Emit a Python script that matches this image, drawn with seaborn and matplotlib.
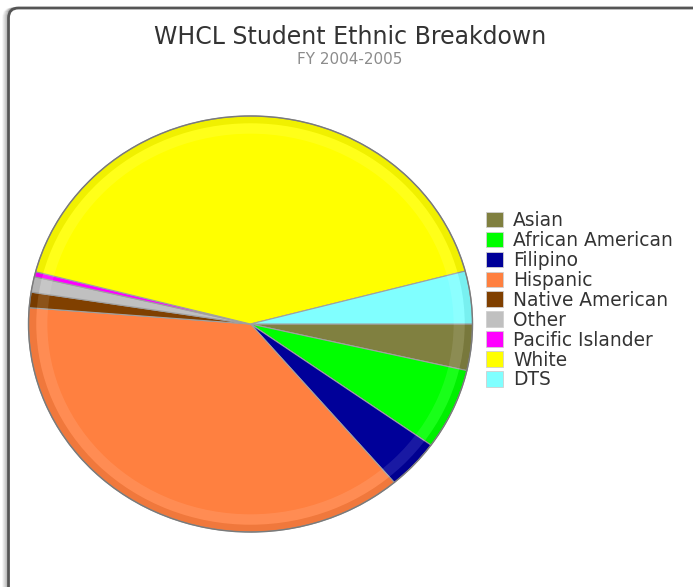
import matplotlib.pyplot as plt
import seaborn as sns
from matplotlib.patches import FancyBboxPatch, Ellipse, Wedge, Patch

sns.set_theme(style='white')
plt.rcParams['font.family'] = ['DejaVu Sans']

# share of students (%)
groups = ['Asian', 'African American', 'Filipino', 'Hispanic', 'Native American',
          'Other', 'Pacific Islander', 'White', 'DTS']
share = [3.6, 6.3, 3.9, 37.5, 1.2, 1.2, 0.4, 41.9, 4.1]
colors = ['#808040', '#00ff00', '#000099', '#ff8040', '#804000',
          '#c0c0c0', '#ff00ff', '#ffff00', '#80ffff']

W, H = 693, 587
fig = plt.figure(figsize=(W / 100, H / 100), dpi=100)
fig.set_facecolor('white')

# rounded frame with a soft shadow on the left
for i, a in enumerate([0.04, 0.07, 0.10, 0.14, 0.18]):
    fig.patches.append(FancyBboxPatch((3 + i, -20), W + 40, H + 20 - 8,
                                      boxstyle='round,pad=0,rounding_size=10',
                                      transform=None, fc='none', ec='black',
                                      lw=1.2, alpha=a, zorder=0))
fig.patches.append(FancyBboxPatch((8.5, -20), W + 40, H + 20 - 8,
                                  boxstyle='round,pad=0,rounding_size=10',
                                  transform=None, fc='white', ec='#555555',
                                  lw=2, zorder=1))

fig.text(350 / W, 1 - 37 / H, 'WHCL Student Ethnic Breakdown', ha='center', va='center',
         fontsize=17, color='#333333')
fig.text(350 / W, 1 - 60 / H, 'FY 2004-2005', ha='center', va='center',
         fontsize=11, color='#8c8c8c')

# pie axes: slightly squashed ellipse like the original
left, right, top, bottom = 28.5, 472.5, 116, 532
ax = fig.add_axes([left / W, 1 - bottom / H, (right - left) / W, (bottom - top) / H])
ax.set_zorder(2)

ax.pie(share, colors=colors, startangle=0, counterclock=False, radius=1,
       wedgeprops=dict(edgecolor='#a0a0a0', linewidth=0.8))

# bevel: darker rim, light band just inside it
ax.add_patch(Wedge((0, 0), 1.0, 0, 360, width=0.035, fc='black', ec='none', alpha=0.06, zorder=5))
ax.add_patch(Wedge((0, 0), 0.965, 0, 360, width=0.05, fc='white', ec='none', alpha=0.10, zorder=5))
ax.add_patch(Ellipse((0, 0), 2, 2, fc='none', ec='#7a7a7a', lw=1.0, zorder=6, clip_on=False))

ax.set_aspect('auto')
ax.set_xlim(-1, 1)
ax.set_ylim(-1, 1)
ax.axis('off')

handles = [Patch(facecolor=c, edgecolor='#d0d0d0', linewidth=0.6) for c in colors]
fig.legend(handles, groups, loc='upper left', bbox_to_anchor=(486 / W, 1 - 211 / H),
           frameon=False, fontsize=13.4, labelcolor='#333333',
           handlelength=0.92, handleheight=0.92, handletextpad=0.55,
           labelspacing=0.05, borderpad=0, borderaxespad=0)

fig.savefig('out.png', dpi=100)
